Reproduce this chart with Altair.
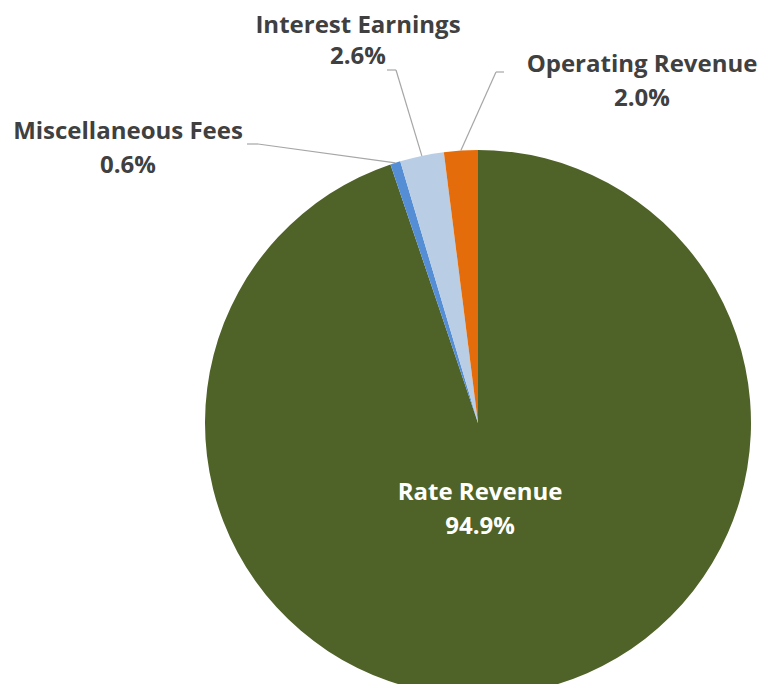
import altair as alt
import pandas as pd
import numpy as np

categories = ["Rate Revenue", "Miscellaneous Fees", "Interest Earnings", "Operating Revenue"]
values = [94.9, 0.6, 2.6, 2.0]
labels_pct = ["94.9%", "0.6%", "2.6%", "2.0%"]
colors = ["#4F6228", "#558ED5", "#B9CDE5", "#E46C0A"]

W, H = 752, 676
CX, CY, R = 470, 415, 273
FONT = "Open Sans"

pie_df = pd.DataFrame({"cat": categories, "val": values, "ord": range(len(categories))})

pie = alt.Chart(pie_df).mark_arc(radius=R).encode(
    theta=alt.Theta("val:Q", stack=True),
    order=alt.Order("ord:Q"),
    color=alt.Color("cat:N", scale=alt.Scale(domain=categories, range=colors), legend=None),
    x=alt.value(CX), y=alt.value(CY),
)

# leader line start points computed from slice mid-angles
tot = sum(values)
cum = np.cumsum([0] + values[:-1])
mids = {c: (cum[i] + values[i] / 2) / tot * 2 * np.pi for i, c in enumerate(categories)}
def edge(c):
    a = mids[c]
    return CX + R * np.sin(a), CY - R * np.cos(a)

elbows = {
    "Miscellaneous Fees": [(239, 136), (250, 136)],
    "Interest Earnings": [(379, 62), (388, 62)],
    "Operating Revenue": [(496, 64), (488, 64)],
}
segs = []
for c, (p_end, p_elb) in elbows.items():
    sx, sy = edge(c)
    segs.append({"x": sx, "y": sy, "x2": p_elb[0], "y2": p_elb[1]})
    segs.append({"x": p_elb[0], "y": p_elb[1], "x2": p_end[0], "y2": p_end[1]})
seg_df = pd.DataFrame(segs)
lines = alt.Chart(seg_df).mark_rule(color="#A6A6A6", strokeWidth=1.2).encode(
    x=alt.X("x:Q", scale=None), y=alt.Y("y:Q", scale=None),
    x2="x2:Q", y2="y2:Q",
)

label_pos = {
    "Rate Revenue": (472, 485, 519, "white"),
    "Miscellaneous Fees": (120, 124, 158, "#404040"),
    "Interest Earnings": (350, 18, 49, "#404040"),
    "Operating Revenue": (634, 57, 91, "#404040"),
}
rows = []
for c, p in zip(categories, labels_pct):
    x, y1, y2, col = label_pos[c]
    rows.append({"x": x, "y": y1, "t": c, "col": col})
    rows.append({"x": x, "y": y2, "t": p, "col": col})
lab_df = pd.DataFrame(rows)
texts = alt.Chart(lab_df).mark_text(font=FONT, fontSize=24, fontWeight="bold", baseline="middle", align="center").encode(
    x=alt.X("x:Q", scale=None), y=alt.Y("y:Q", scale=None),
    text="t:N", color=alt.Color("col:N", scale=None),
)

chart = alt.layer(pie, lines, texts).properties(
    width=W, height=H, padding=0, autosize=alt.AutoSizeParams(type="none")
).configure_view(stroke=None)

chart.save("out.html", embed_options={"renderer": "svg", "actions": False})
